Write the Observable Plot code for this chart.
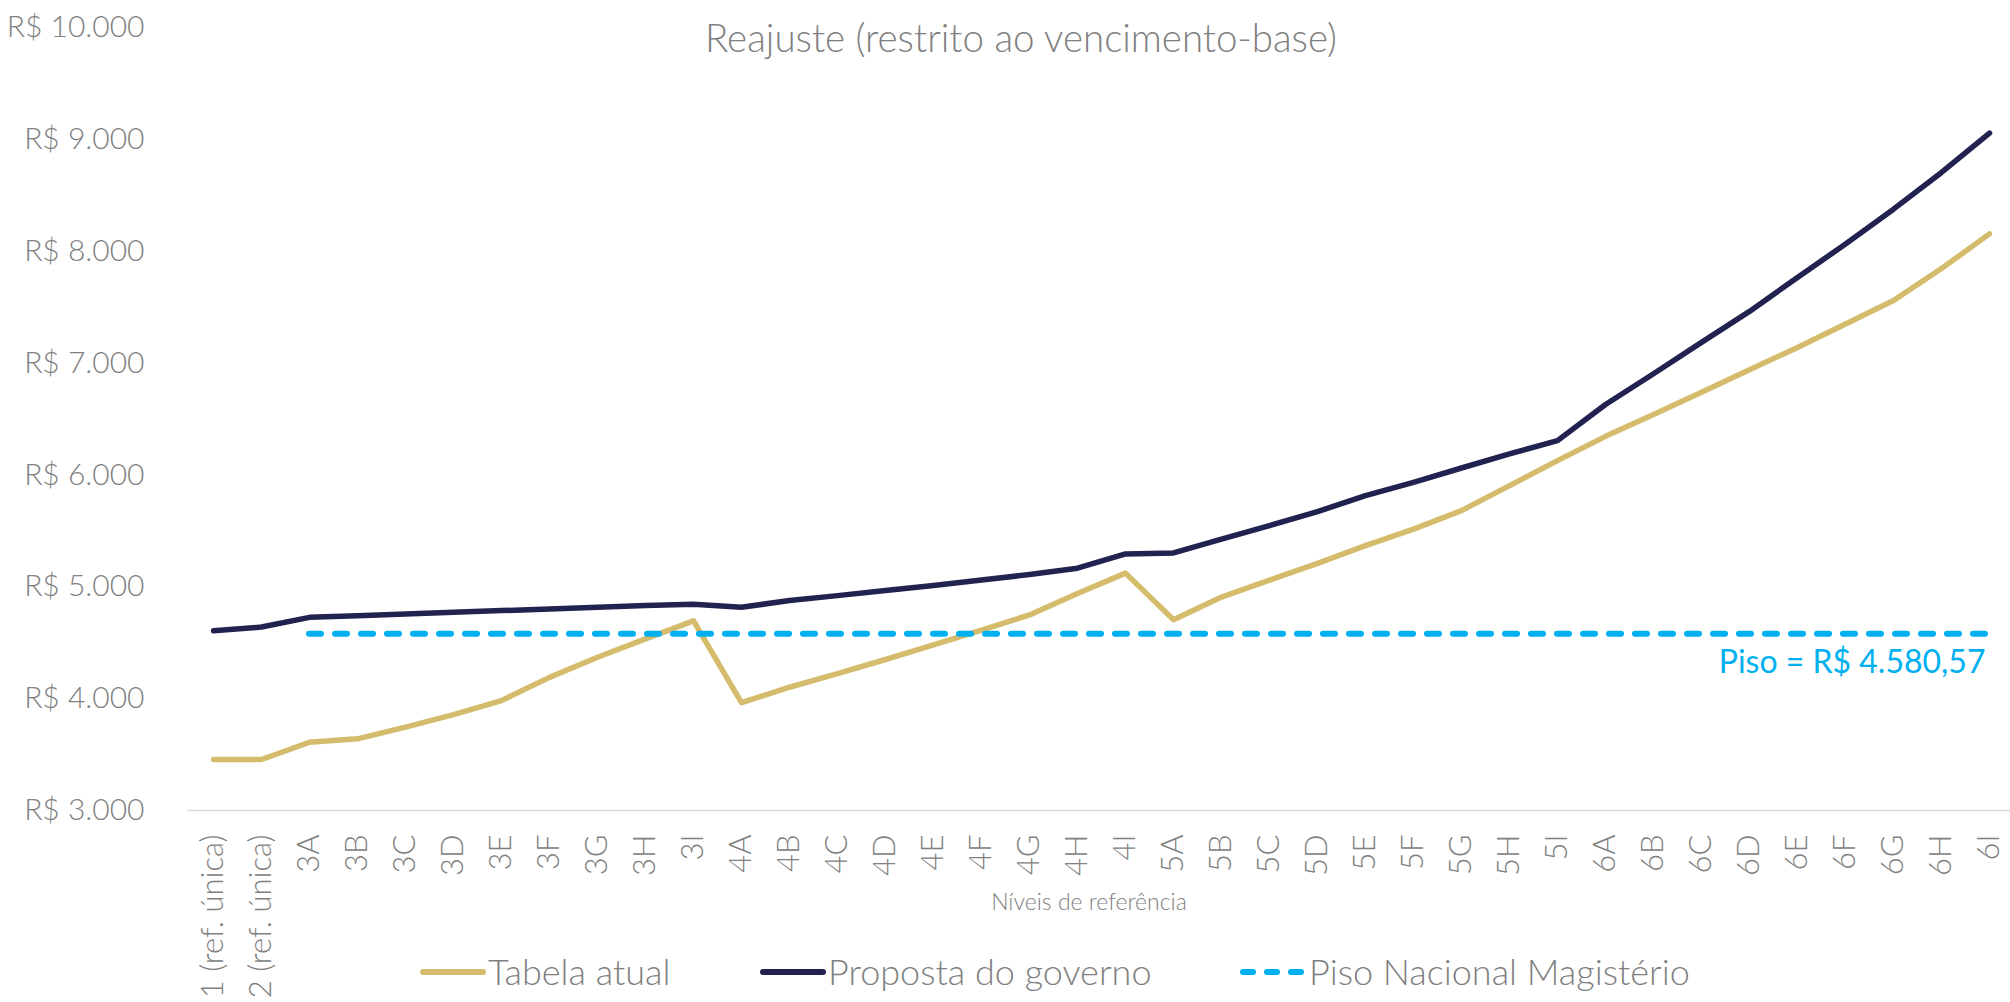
<!DOCTYPE html>
<html>
<head>
<meta charset="utf-8">
<script src="https://cdn.jsdelivr.net/npm/d3@7"></script>
<script src="https://cdn.jsdelivr.net/npm/@observablehq/plot@0.6"></script>
<style>
  html, body { margin: 0; padding: 0; background: #ffffff; }
  #wrap { position: relative; width: 2010px; height: 1002px; overflow: hidden; font-family: Lato, "Open Sans", sans-serif; font-weight: 300; color: #7f7f7f; }
  #chart { position: absolute; left: 0; top: 0; }
  .abs { position: absolute; white-space: nowrap; line-height: 1; }
  #title { left: 1021px; top: 18px; font-size: 38.5px; transform: translateX(-50%); color: #808080; }
  #xtitle { left: 1089px; top: 890px; font-size: 23px; transform: translateX(-50%); color: #808080; }
  .leg-text { font-size: 36px; top: 953px; color: #7f7f7f; }
  .leg-sw { position: absolute; top: 966px; }
</style>
</head>
<body>
<div id="wrap">
  <div id="chart"></div>
  <div id="title" class="abs"></div>
  <div id="xtitle" class="abs"></div>
  <div id="legend"></div>
</div>
<script>
// ---- Data ----
const niveis = [
  "1 (ref. única)", "2 (ref. única)",
  "3A", "3B", "3C", "3D", "3E", "3F", "3G", "3H", "3I",
  "4A", "4B", "4C", "4D", "4E", "4F", "4G", "4H", "4I",
  "5A", "5B", "5C", "5D", "5E", "5F", "5G", "5H", "5I",
  "6A", "6B", "6C", "6D", "6E", "6F", "6G", "6H", "6I"
];
const tabelaAtual = [
  3456, 3456,
  3610, 3641, 3745, 3857, 3983, 4190, 4370, 4534, 4695,
  3965, 4102, 4224, 4350, 4480, 4612, 4748, 4940, 5122,
  4705, 4908, 5060, 5209, 5368, 5516, 5681, 5904, 6128,
  6345, 6540, 6740, 6940, 7140, 7350, 7560, 7845, 8155
];
const propostaGoverno = [
  4606, 4640,
  4727, 4742, 4757, 4772, 4787, 4802, 4817, 4832, 4843,
  4817, 4877, 4921, 4966, 5011, 5061, 5109, 5166, 5294,
  5303, 5426, 5547, 5672, 5815, 5934, 6062, 6188, 6307,
  6630, 6905, 7185, 7462, 7766, 8064, 8376, 8704, 9056
];
const pisoNacional = 4580.57;
const pisoInicio = "3A";
const pisoFim = "6I";
const pisoRotulo = "Piso = R$ 4.580,57";
const yTicks = [3000, 4000, 5000, 6000, 7000, 8000, 9000, 10000];
const titulo = "Reajuste (restrito ao vencimento-base)";
const eixoX = "Níveis de referência";
const series = ["Tabela atual", "Proposta do governo", "Piso Nacional Magistério"];
const cores = ["#D4BC6C", "#222250", "#00B0F0"];

// ---- Build tables ----
const rows = niveis.map((n, i) => ({nivel: n, atual: tabelaAtual[i], proposta: propostaGoverno[i]}));
const pisoRows = [{valor: pisoNacional, de: pisoInicio, ate: pisoFim, rotulo: pisoRotulo}];

const br = d3.formatLocale({decimal: ",", thousands: ".", grouping: [3], currency: ["R$ ", ""]});
const fmt = br.format("$,.0f");

const chart = Plot.plot({
  width: 2010,
  height: 1002,
  marginTop: 27,
  marginBottom: 192,
  marginLeft: 187,
  marginRight: 0,
  style: {fontFamily: "Lato, 'Open Sans', sans-serif", fontWeight: 300, background: "transparent", overflow: "visible"},
  x: {type: "point", domain: niveis, range: [211, 1991], padding: 0},
  y: {domain: [3000, 10000]},
  marks: [
    Plot.ruleY([3000], {stroke: "#d9d9d9", strokeWidth: 1.5}),
    Plot.axisY(yTicks, {tickSize: 0, tickPadding: 43, tickFormat: fmt, fontSize: 30, fill: "#808080", label: null}),
    Plot.axisX({tickSize: 0, tickRotate: -90, tickPadding: 24, fontSize: 31, fill: "#808080", label: null}),
    Plot.line(rows, {x: "nivel", y: "atual", stroke: cores[0], strokeWidth: 5.5, strokeLinejoin: "round", strokeLinecap: "round"}),
    Plot.line(rows, {x: "nivel", y: "proposta", stroke: cores[1], strokeWidth: 5.5, strokeLinejoin: "round", strokeLinecap: "round"}),
    Plot.ruleY(pisoRows, {y: "valor", x1: "de", x2: "ate", stroke: cores[2], strokeWidth: 6, strokeDasharray: "12,14", strokeLinecap: "round"}),
    Plot.text(pisoRows, {x: "ate", y: "valor", text: "rotulo", textAnchor: "end", dx: -4, dy: 29, fontSize: 32, fill: cores[2], fontWeight: 400})
  ]
});
document.getElementById("chart").appendChild(chart);

document.getElementById("title").textContent = titulo;
document.getElementById("xtitle").textContent = eixoX;

// ---- Legend ----
const legend = document.getElementById("legend");
const legPos = [[420, 488], [760, 828], [1240, 1309]];
series.forEach((s, i) => {
  const sw = document.createElementNS("http://www.w3.org/2000/svg", "svg");
  sw.setAttribute("class", "leg-sw");
  sw.setAttribute("width", 66);
  sw.setAttribute("height", 12);
  sw.style.left = legPos[i][0] + "px";
  const ln = document.createElementNS("http://www.w3.org/2000/svg", "line");
  ln.setAttribute("x1", 3); ln.setAttribute("x2", 63);
  ln.setAttribute("y1", 6); ln.setAttribute("y2", 6);
  ln.setAttribute("stroke", cores[i]);
  ln.setAttribute("stroke-width", 6);
  ln.setAttribute("stroke-linecap", "round");
  if (i === 2) ln.setAttribute("stroke-dasharray", "10,14");
  sw.appendChild(ln);
  legend.appendChild(sw);
  const t = document.createElement("div");
  t.className = "abs leg-text";
  t.style.left = legPos[i][1] + "px";
  t.textContent = s;
  legend.appendChild(t);
});
</script>
</body>
</html>
